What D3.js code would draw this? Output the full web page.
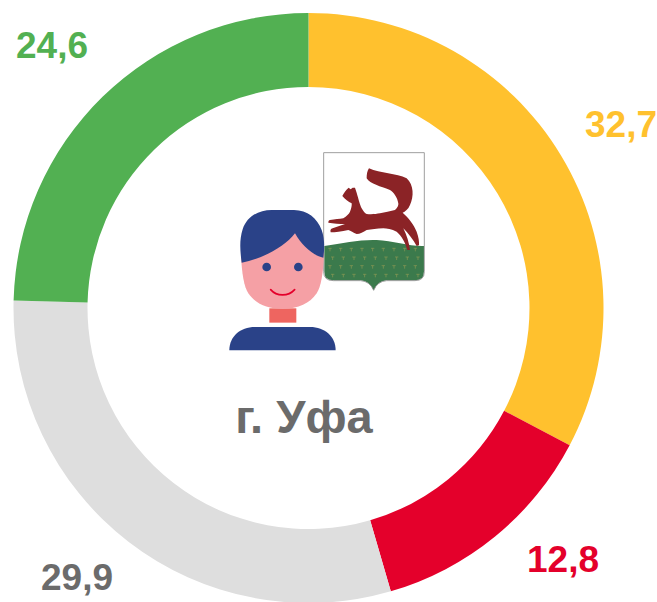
<!DOCTYPE html>
<html>
<head>
<meta charset="utf-8">
<script src="https://cdn.jsdelivr.net/npm/d3@7"></script>
<style>
body { margin: 0; background: #fff; }
svg { display: block; }
text { font-family: "Liberation Sans", Arial, sans-serif; font-weight: bold; }
</style>
</head>
<body>
<div id="chart"></div>
<script>
var w = 657;
var h = 602;

var categories = ["yellow", "red", "grey", "green"];
var values = [32.7, 12.8, 29.9, 24.6];
var valueLabels = ["32,7", "12,8", "29,9", "24,6"];
var colors = ["#FFC12E", "#E4002B", "#DEDEDE", "#52B052"];
var labelColors = ["#FFC12E", "#E4002B", "#6B6B6B", "#52B052"];
var labelX = [621, 563, 77, 52];
var labelY = [137, 572, 590, 58];
var title = "г. Уфа";

var svg = d3.select("#chart")
    .append("svg")
    .attr("width", w)
    .attr("height", h);

var pie = d3.pie().sort(null).value(function(d){ return d; });
var arc = d3.arc().innerRadius(221).outerRadius(295);

var ring = svg.append("g")
    .attr("transform", "translate(308.5,308)");

ring.selectAll("path")
    .data(pie(values))
    .enter()
    .append("path")
    .attr("d", arc)
    .attr("fill", function(d, i){ return colors[i]; });

svg.selectAll("text.value")
    .data(valueLabels)
    .enter()
    .append("text")
    .attr("class", "value")
    .attr("x", function(d, i){ return labelX[i]; })
    .attr("y", function(d, i){ return labelY[i]; })
    .attr("text-anchor", "middle")
    .attr("font-size", 37)
    .attr("fill", function(d, i){ return labelColors[i]; })
    .text(function(d){ return d; });

svg.append("text")
    .attr("x", 304)
    .attr("y", 433)
    .attr("text-anchor", "middle")
    .attr("font-size", 47)
    .attr("fill", "#6B6B6B")
    .text(title);

// icons, drawn in the 3x coordinates of the crop they were measured on
var icons = svg.append("g")
    .attr("transform", "translate(220,140) scale(0.3333)");

// coat of arms
var shield = "M311,38 H613 V395 Q613,422 585,422 H500 Q472,424 461,451 Q450,424 422,422 H340 Q311,422 311,395 Z";
icons.append("path")
    .attr("d", shield)
    .attr("fill", "#fff");

icons.append("path")
    .attr("d", "M313,318 C370,310 420,298 470,300 C520,302 570,320 612,318 V395 Q612,421 585,421 H500 Q472,424 461,451 Q450,424 422,421 H340 Q313,421 313,395 Z")
    .attr("fill", "#3B7A4C");

// small marks on the green field
var markX = [330, 362, 394, 426, 458, 490, 522, 554, 586];
var markY = [325, 351, 377, 403];
markY.forEach(function(my, r){
    markX.forEach(function(mx){
        icons.append("path")
            .attr("d", "M" + (mx - 5 + (r % 2) * 8) + "," + my + " h10 M" + (mx + (r % 2) * 8) + "," + my + " v9")
            .attr("stroke", "#8E9A55")
            .attr("stroke-width", 2)
            .attr("fill", "none");
    });
});

// marten
icons.append("path")
    .attr("d", "M447,85 C480,100 530,100 560,115 C582,135 582,170 570,195 C565,208 555,215 548,218 C565,232 582,255 590,275 C596,292 598,305 597,316 L590,318 C580,300 565,280 550,265 C560,285 568,310 570,330 L562,330 C555,305 545,288 530,275 C515,268 500,265 490,265 C470,266 455,268 440,270 C430,276 420,282 410,282 C400,278 392,272 385,270 C365,274 345,277 332,277 C330,271 332,267 338,265 L375,252 C360,252 340,250 325,248 C325,243 327,241 330,240 C345,238 358,237 370,235 C380,228 387,222 390,215 C394,205 396,197 395,190 C385,185 375,178 367,168 C372,158 378,150 386,143 L392,148 L398,143 L405,143 L410,158 C415,175 420,195 425,205 C430,214 435,220 440,222 C455,224 468,222 480,220 C495,217 510,214 525,210 C533,204 536,196 535,190 C532,172 522,158 510,150 C495,143 480,140 470,135 C455,130 445,123 440,115 C440,103 442,92 447,85 Z")
    .attr("fill", "#8B2326");

icons.append("path")
    .attr("d", shield)
    .attr("fill", "none")
    .attr("stroke", "#8c8c8c")
    .attr("stroke-width", 2.5);

// person
icons.append("path")
    .attr("d", "M148,505 H229 V548 H148 Z")
    .attr("fill", "#EE6560");

icons.append("path")
    .attr("d", "M28,631 C28,590 60,561 105,561 H270 C315,561 347,590 347,631 Z")
    .attr("fill", "#2A4288");

icons.append("path")
    .attr("d", "M63,340 C65,400 72,440 85,460 C105,490 140,507 188,507 C235,507 270,490 290,460 C303,440 310,400 312,340 C310,280 280,240 188,240 C100,240 65,280 63,340 Z")
    .attr("fill", "#F5A0A5");

icons.append("path")
    .attr("d", "M65,368 C60,330 58,300 68,268 C80,230 115,210 155,210 H222 C262,210 292,235 305,270 C314,295 314,325 310,353 C275,345 245,315 225,280 C195,320 130,355 65,368 Z")
    .attr("fill", "#2A4288");

icons.selectAll("circle.eye")
    .data([140, 235])
    .enter()
    .append("circle")
    .attr("class", "eye")
    .attr("cx", function(d){ return d; })
    .attr("cy", 381)
    .attr("r", 13)
    .attr("fill", "#2A4288");

icons.append("path")
    .attr("d", "M152,449 C170,470 205,470 224,449")
    .attr("fill", "none")
    .attr("stroke", "#E4002B")
    .attr("stroke-width", 5)
    .attr("stroke-linecap", "round");
</script>
</body>
</html>
